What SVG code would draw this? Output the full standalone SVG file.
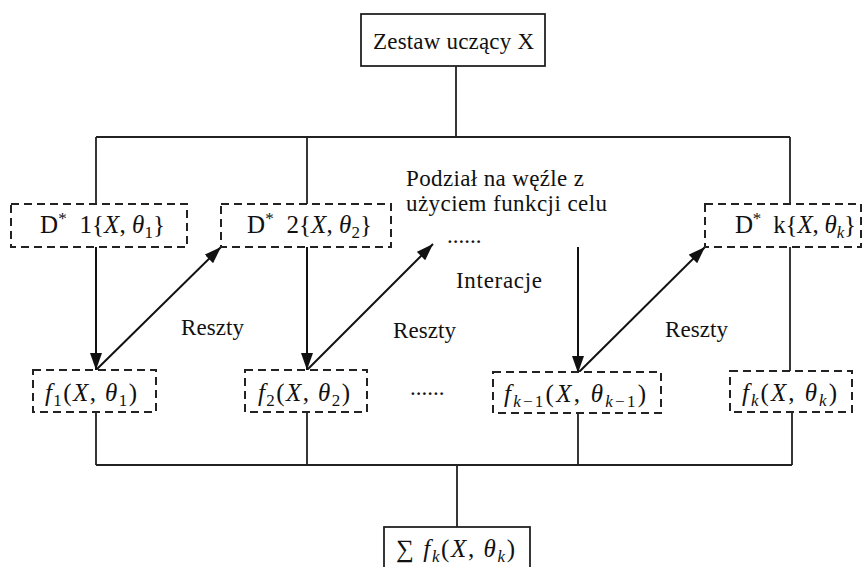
<svg xmlns="http://www.w3.org/2000/svg" width="863" height="567" viewBox="0 0 863 567">
<style>
  .t { font-family: "Liberation Serif", "Times New Roman", serif; font-size: 23px; fill: #111; }
  .m { font-family: "Liberation Serif", "Times New Roman", serif; font-size: 25px; fill: #111; }
  .it { font-style: italic; }
  .sub { font-size: 17px; }
  .solid { fill: #fff; stroke: #222; stroke-width: 1.8; }
  .dash { fill: #fff; stroke: #222; stroke-width: 2; stroke-dasharray: 8 5; }
  .ln { fill: none; stroke: #222; stroke-width: 1.8; }
  .arr { fill: none; stroke: #111; stroke-width: 2; marker-end: url(#ah); }
</style>
<defs>
  <marker id="ah" markerUnits="userSpaceOnUse" markerWidth="18" markerHeight="12" refX="17" refY="6" orient="auto">
    <path d="M0,0 L17,6 L0,12 z" fill="#111"/>
  </marker>
</defs>
<rect width="863" height="567" fill="#fff"/>

<g id="connectors">
  <path class="ln" d="M456,66 V137 M96,137 H790 M96,137 V204 M307,137 V204 M790,137 V204"/>
  <path class="ln" d="M790,247 V371"/>
  <path class="ln" d="M96,412 V465 M307,412 V465 M578,413 V465 M792,412 V465 M96,465 H792 M457,465 V527"/>
  <line class="arr" x1="96" y1="247" x2="96" y2="370"/>
  <line class="arr" x1="96" y1="370" x2="221" y2="247"/>
  <line class="arr" x1="307" y1="247" x2="307" y2="370"/>
  <line class="arr" x1="307" y1="370" x2="433" y2="244"/>
  <line class="arr" x1="578" y1="247" x2="578" y2="373"/>
  <line class="arr" x1="578" y1="373" x2="705" y2="247"/>
</g>

<g id="zestaw">
  <rect class="solid" x="361" y="14" width="184" height="52"/>
  <text class="t" x="373" y="49" textLength="161">Zestaw uczący X</text>
</g>

<g id="d1">
  <rect class="dash" x="11" y="204" width="176" height="43"/>
  <text class="m" x="40" y="233" textLength="125" xml:space="preserve">D<tspan class="sub" dy="-9">*</tspan><tspan dy="9">  1{</tspan><tspan class="it">X</tspan>, <tspan class="it">θ</tspan><tspan class="sub" dy="5">1</tspan><tspan dy="-5">}</tspan></text>
</g>

<g id="d2">
  <rect class="dash" x="221" y="204" width="170" height="43"/>
  <text class="m" x="247" y="233" textLength="125" xml:space="preserve">D<tspan class="sub" dy="-9">*</tspan><tspan dy="9">  2{</tspan><tspan class="it">X</tspan>, <tspan class="it">θ</tspan><tspan class="sub" dy="5">2</tspan><tspan dy="-5">}</tspan></text>
</g>

<g id="dk">
  <rect class="dash" x="705" y="204" width="156" height="43"/>
  <text class="m" x="735" y="233" textLength="121" xml:space="preserve">D<tspan class="sub" dy="-9">*</tspan><tspan dy="9">  k{</tspan><tspan class="it">X</tspan>, <tspan class="it">θ</tspan><tspan class="sub it" dy="5">k</tspan><tspan dy="-5">}</tspan></text>
</g>

<g id="f1">
  <rect class="dash" x="33" y="370" width="123" height="42"/>
  <text class="m" x="45" y="401" textLength="92"><tspan class="it">f</tspan><tspan class="sub" dy="5">1</tspan><tspan dy="-5">(</tspan><tspan class="it">X</tspan>, <tspan class="it">θ</tspan><tspan class="sub" dy="5">1</tspan><tspan dy="-5">)</tspan></text>
</g>

<g id="f2">
  <rect class="dash" x="245" y="370" width="122" height="42"/>
  <text class="m" x="258" y="401" textLength="92"><tspan class="it">f</tspan><tspan class="sub" dy="5">2</tspan><tspan dy="-5">(</tspan><tspan class="it">X</tspan>, <tspan class="it">θ</tspan><tspan class="sub" dy="5">2</tspan><tspan dy="-5">)</tspan></text>
</g>

<g id="fk1">
  <rect class="dash" x="493" y="372" width="168" height="41"/>
  <text class="m" x="504" y="402" textLength="142"><tspan class="it">f</tspan><tspan class="sub" dy="5"><tspan class="it">k</tspan>−1</tspan><tspan dy="-5">(</tspan><tspan class="it">X</tspan>, <tspan class="it">θ</tspan><tspan class="sub" dy="5"><tspan class="it">k</tspan>−1</tspan><tspan dy="-5">)</tspan></text>
</g>

<g id="fk">
  <rect class="dash" x="730" y="371" width="122" height="41"/>
  <text class="m" x="742" y="401" textLength="95"><tspan class="it">f</tspan><tspan class="sub it" dy="5">k</tspan><tspan dy="-5">(</tspan><tspan class="it">X</tspan>, <tspan class="it">θ</tspan><tspan class="sub it" dy="5">k</tspan><tspan dy="-5">)</tspan></text>
</g>

<g id="sum">
  <rect class="solid" x="384" y="527" width="146" height="50"/>
  <text class="m" x="396" y="557" textLength="119">∑ <tspan class="it">f</tspan><tspan class="sub it" dy="5">k</tspan><tspan dy="-5">(</tspan><tspan class="it">X</tspan>, <tspan class="it">θ</tspan><tspan class="sub it" dy="5">k</tspan><tspan dy="-5">)</tspan></text>
</g>

<g id="labels">
  <text class="t" x="406" y="186" textLength="178">Podział na węźle z</text>
  <text class="t" x="406" y="211" textLength="201">użyciem funkcji celu</text>
  <text class="t" x="447" y="243">......</text>
  <text class="t" x="456" y="288" textLength="86">Interacje</text>
  <text class="t" x="181" y="335" textLength="63">Reszty</text>
  <text class="t" x="393" y="338" textLength="63">Reszty</text>
  <text class="t" x="665" y="337" textLength="63">Reszty</text>
  <text class="t" x="410" y="395">......</text>
</g>
</svg>
